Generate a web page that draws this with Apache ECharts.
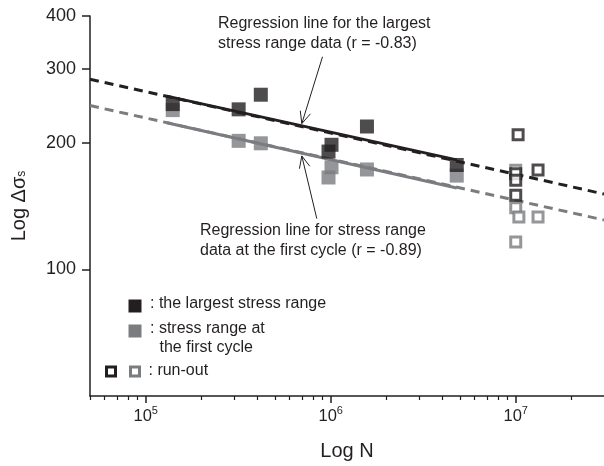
<!DOCTYPE html>
<html><head><meta charset="utf-8">
<script src="https://cdn.jsdelivr.net/npm/echarts@6/dist/echarts.min.js"></script>
<style>html,body{margin:0;padding:0;background:#fff}#c{width:604px;height:466px}</style>
</head><body><div id="c"></div>
<script>
// ---- data ----
const xTicks = [1e5, 1e6, 1e7];
const xMinorTicks = [5e4,6e4,7e4,8e4,9e4,2e5,3e5,4e5,5e5,6e5,7e5,8e5,9e5,2e6,3e6,4e6,5e6,6e6,7e6,8e6,9e6,2e7];
const yTicks = [100, 200, 300, 400];

const largestN = [1.40e5, 3.18e5, 4.19e5, 9.73e5, 1.01e6, 1.57e6, 4.80e6];
const largestS = [247, 240, 260, 190.5, 197.7, 218.5, 177];
const firstN   = [1.40e5, 3.18e5, 4.19e5, 9.73e5, 1.01e6, 1.57e6, 4.80e6];
const firstS   = [239, 202, 199.3, 165.3, 174.8, 172.7, 167];

const runoutLargestN = [1.03e7, 1.0e7, 1.0e7, 1.0e7, 1.32e7];
const runoutLargestS = [208.8, 168.7, 162.8, 149.9, 172.2];
const runoutFirstN   = [1.0e7, 1.0e7, 1.04e7, 1.32e7, 1.0e7];
const runoutFirstS   = [171.9, 140.0, 133.2, 133.2, 116.1];

// regression lines: [N, S] end points
const regLargestExt   = [[5e4, 283], [3e7, 151]];
const regLargestSolid = [[1.3e5, 258], [4.8e6, 182]];
const regFirstExt     = [[5e4, 245], [3e7, 131]];
const regFirstSolid   = [[1.3e5, 223], [4.8e6, 156]];

// annotation arrows: [N1, S1, N2(tip), S2(tip)]
const arrows = [[9.03e5, 320, 6.98e5, 222], [8.41e5, 132, 6.98e5, 186]];

const annoTop = ['Regression line for the largest', 'stress range data (r = -0.83)'];
const annoBottom = ['Regression line for stress range', 'data at the first cycle (r = -0.89)'];

// ---- styles ----
const BLACK = '#231f20';
const GRAY = '#7b7c7f';
const FONT = '"Liberation Sans", Arial, Helvetica, sans-serif';

const zip = (a, b) => a.map((v, i) => [v, b[i]]);

const chart = echarts.init(document.getElementById('c'), null, {renderer: 'canvas'});

const option = {
  animation: false,
  backgroundColor: '#fff',
  textStyle: {fontFamily: FONT, color: BLACK},
  grid: {left: 90, right: 0, top: 16, bottom: 70, containLabel: false, outerBoundsMode: 'none'},
  xAxis: [{
    type: 'log', logBase: 10, min: 5e4, max: 3e7,
    axisLine: {show: true, lineStyle: {color: BLACK, width: 1.5}},
    axisTick: {show: true, length: 7, customValues: xTicks, lineStyle: {color: BLACK, width: 1.5}},
    axisLabel: {
      customValues: xTicks, margin: 9, color: BLACK,
      formatter: v => '{b|10}{e|' + Math.round(Math.log10(v)) + '}',
      rich: {
        b: {fontSize: 16.5, fontFamily: FONT, color: BLACK},
        e: {fontSize: 11, fontFamily: FONT, color: BLACK, padding: [0, 0, 12, 0]}
      }
    },
    splitLine: {show: false},
    name: 'Log N', nameLocation: 'middle', nameGap: 45,
    nameTextStyle: {fontSize: 20, color: BLACK, fontFamily: FONT}
  }, {
    type: 'log', logBase: 10, min: 5e4, max: 3e7, position: 'bottom',
    axisLine: {show: false},
    axisTick: {show: true, length: 4, customValues: xMinorTicks, lineStyle: {color: BLACK, width: 1.2}},
    axisLabel: {show: false},
    splitLine: {show: false}
  }],
  yAxis: {
    type: 'log', logBase: 10, min: 50, max: 400,
    axisLine: {show: true, lineStyle: {color: BLACK, width: 1.5}},
    axisTick: {show: true, length: 8, customValues: yTicks, lineStyle: {color: BLACK, width: 1.5}},
    axisLabel: {customValues: yTicks, margin: 14, fontSize: 18, color: BLACK, fontFamily: FONT},
    splitLine: {show: false},
    name: '{a|Log Δσ}{s|s}', nameLocation: 'middle', nameGap: 61, nameRotate: 90,
    nameTextStyle: {
      color: BLACK, fontFamily: FONT,
      rich: {
        a: {fontSize: 20, fontFamily: FONT, color: BLACK},
        s: {fontSize: 12, fontFamily: FONT, color: BLACK, padding: [6, 0, 0, 0]}
      }
    }
  },
  series: [
    {type: 'line', data: regFirstExt, showSymbol: false, z: 1, silent: true,
     lineStyle: {color: GRAY, width: 3, type: [9, 6]}},
    {type: 'line', data: regFirstSolid, showSymbol: false, z: 2, silent: true,
     lineStyle: {color: GRAY, width: 3}},
    {type: 'line', data: regLargestExt, showSymbol: false, z: 1, silent: true,
     lineStyle: {color: BLACK, width: 3, type: [9, 6]}},
    {type: 'line', data: regLargestSolid, showSymbol: false, z: 2, silent: true,
     lineStyle: {color: BLACK, width: 3}},
    {type: 'scatter', data: zip(firstN, firstS), symbol: 'rect', symbolSize: 14, z: 3,
     itemStyle: {color: GRAY}},
    {type: 'scatter', data: zip(largestN, largestS), symbol: 'rect', symbolSize: 14, z: 4,
     itemStyle: {color: BLACK}},
    {type: 'scatter', data: zip(runoutFirstN, runoutFirstS), symbol: 'rect', symbolSize: 10, z: 5,
     itemStyle: {color: '#fff', borderColor: GRAY, borderWidth: 3}},
    {type: 'scatter', data: zip(runoutLargestN, runoutLargestS), symbol: 'rect', symbolSize: 10, z: 6,
     itemStyle: {color: '#fff', borderColor: BLACK, borderWidth: 3}},
    {type: 'custom', data: arrows, z: 7, silent: true, clip: false,
     encode: {x: [0, 2], y: [1, 3]},
     renderItem: (params, api) => {
       const p1 = api.coord([api.value(0), api.value(1)]);
       const p2 = api.coord([api.value(2), api.value(3)]);
       const ang = Math.atan2(p2[1] - p1[1], p2[0] - p1[0]);
       const L = 13, a = 0.42;
       const h1 = [p2[0] - L * Math.cos(ang - a), p2[1] - L * Math.sin(ang - a)];
       const h2 = [p2[0] - L * Math.cos(ang + a), p2[1] - L * Math.sin(ang + a)];
       return {type: 'group', children: [
         {type: 'line', shape: {x1: p1[0], y1: p1[1], x2: p2[0], y2: p2[1]},
          style: {stroke: BLACK, lineWidth: 1}},
         {type: 'polyline', shape: {points: [h1, p2, h2]},
          style: {stroke: BLACK, fill: null, lineWidth: 1}}
       ]};
     }}
  ],
  graphic: [
    {type: 'text', left: 218, top: 14, z: 10,
     style: {text: annoTop.join('\n'), font: '16px ' + FONT, fill: BLACK, lineHeight: 19.5}},
    {type: 'text', left: 200, top: 221, z: 10,
     style: {text: annoBottom.join('\n'), font: '16px ' + FONT, fill: BLACK, lineHeight: 20}},
    // legend
    {type: 'rect', shape: {x: 128.5, y: 299.5, width: 13, height: 13}, style: {fill: BLACK}, z: 10},
    {type: 'text', left: 150, top: 296, z: 10,
     style: {text: ': the largest stress range', font: '16px ' + FONT, fill: BLACK}},
    {type: 'rect', shape: {x: 128.5, y: 324.5, width: 13, height: 13}, style: {fill: GRAY}, z: 10},
    {type: 'text', left: 150, top: 321, z: 10,
     style: {text: ': stress range at', font: '16px ' + FONT, fill: BLACK}},
    {type: 'text', left: 159.5, top: 339.5, z: 10,
     style: {text: 'the first cycle', font: '16px ' + FONT, fill: BLACK}},
    {type: 'rect', shape: {x: 106.5, y: 367, width: 9, height: 9},
     style: {fill: '#fff', stroke: BLACK, lineWidth: 3}, z: 10},
    {type: 'rect', shape: {x: 130.5, y: 367, width: 9, height: 9},
     style: {fill: '#fff', stroke: GRAY, lineWidth: 3}, z: 10},
    {type: 'text', left: 148.5, top: 362.5, z: 10,
     style: {text: ': run-out', font: '16px ' + FONT, fill: BLACK}}
  ]
};
chart.setOption(option);
</script>
</body></html>
